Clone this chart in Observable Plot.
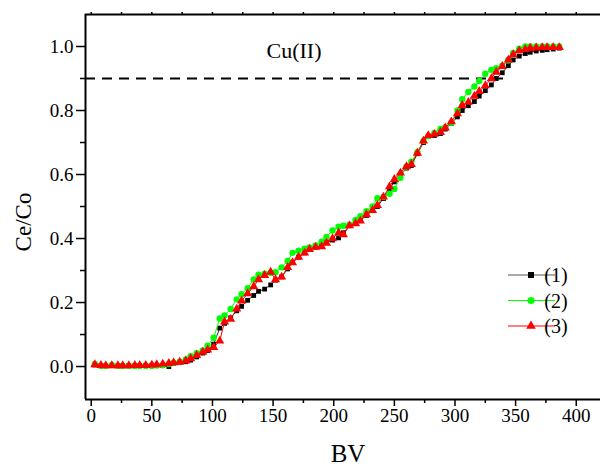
<!DOCTYPE html>
<html><head><meta charset="utf-8">
<script src="https://cdn.jsdelivr.net/npm/d3@7"></script>
<script src="https://cdn.jsdelivr.net/npm/@observablehq/plot@0.6"></script>
<style>
body{margin:0;background:#fff}
svg{display:block}
svg text, svg g[aria-label] { font-family: "Liberation Serif", "DejaVu Serif", serif !important; }
</style>
</head><body><div id="chart"></div>
<script>
const BV = [3,8,12,17,22,26,31,36,40,45,50,54,59,64,68,73,78,82,87,92,96,101,106,110,115,120,124,129,134,138,143,148,152,157,162,166,171,176,180,185,190,194,199,204,208,213,218,222,227,232,236,241,246,250,255,260,264,269,274,278,283,288,292,297,302,306,311,316,320,325,330,334,339,344,348,353,358,362,367,372,376,381,386];
const ce1 = [0.005,0.003,0.003,0.003,0.003,0.003,0.003,0.003,0.003,0.004,
 0.004,0.004,0.003,0.000,0.010,0.012,0.015,0.020,0.030,0.042,
 0.050,0.070,0.120,0.135,0.152,0.174,0.188,0.207,0.222,0.235,
 0.242,0.255,0.270,0.280,0.305,0.325,0.342,0.355,0.366,0.373,
 0.379,0.387,0.395,0.402,0.418,0.440,0.449,0.457,0.472,0.487,
 0.500,0.525,0.555,0.577,0.600,0.620,0.628,0.665,0.700,0.720,
 0.722,0.728,0.742,0.760,0.780,0.800,0.815,0.828,0.845,0.862,
 0.880,0.900,0.918,0.940,0.958,0.970,0.978,0.982,0.986,0.988,
 0.990,0.992,0.995];
const ce2 = [0.008,0.002,0.002,0.005,0.002,0.002,0.002,0.002,0.002,0.002,
 0.002,0.003,0.004,0.008,0.012,0.015,0.022,0.032,0.042,0.050,
 0.065,0.090,0.150,0.160,0.180,0.210,0.226,0.245,0.272,0.287,
 0.290,0.293,0.295,0.310,0.330,0.355,0.362,0.368,0.372,0.378,
 0.390,0.405,0.425,0.437,0.440,0.443,0.458,0.470,0.485,0.500,
 0.526,0.530,0.540,0.555,0.590,0.625,0.640,0.670,0.705,0.720,
 0.730,0.742,0.748,0.762,0.800,0.835,0.858,0.875,0.892,0.915,
 0.927,0.932,0.940,0.958,0.980,0.993,1.000,1.000,1.000,1.000,
 1.000,1.000,1.000];
const ce3 = [0.006,0.004,0.003,0.003,0.003,0.003,0.003,0.004,0.004,0.004,
 0.005,0.006,0.008,0.010,0.012,0.014,0.018,0.025,0.035,0.045,
 0.052,0.060,0.080,0.140,0.148,0.180,0.205,0.228,0.250,0.272,
 0.285,0.295,0.272,0.280,0.310,0.325,0.342,0.355,0.366,0.373,
 0.375,0.386,0.400,0.418,0.412,0.440,0.447,0.455,0.475,0.488,
 0.504,0.530,0.562,0.585,0.605,0.625,0.632,0.667,0.705,0.722,
 0.726,0.732,0.746,0.765,0.790,0.816,0.826,0.845,0.860,0.878,
 0.900,0.920,0.938,0.958,0.975,0.987,0.991,0.995,0.996,0.997,
 0.997,0.997,0.997];
const seriesNames = ["(1)","(2)","(3)"];
const xMajor = [0,50,100,150,200,250,300,350,400];
const xMinor = [25,75,125,175,225,275,325,375];
const yMajor = [0,0.2,0.4,0.6,0.8,1.0];
const yMinor = [0.1,0.3,0.5,0.7,0.9];
const xDomain = [-4.7, 420];
const yDomain = [-0.103, 1.1];
const threshold = 0.9;
const thresholdEnd = 342;
const annotation = "Cu(II)";
const xLabel = "BV";
const yLabel = "Ce/Co";

const mk = arr => BV.map((b, i) => ({bv: b, v: arr[i]}));
const d1 = mk(ce1), d2 = mk(ce2), d3s = mk(ce3);

const font = "'Liberation Serif', 'DejaVu Serif', serif";
const plot = Plot.plot({
  width: 600, height: 468,
  marginLeft: 85, marginRight: 0, marginTop: 14, marginBottom: 69,
  style: {fontFamily: font, fontSize: "19px", color: "#000", background: "#fff", overflow: "visible"},
  x: {domain: xDomain},
  y: {domain: yDomain},
  marks: [
    Plot.axisX({ticks: xMajor, tickSize: 7, tickPadding: 2, strokeWidth: 1.5, fontSize: 19, tickFormat: d => String(d), label: null}),
    Plot.axisX({ticks: xMinor, tickSize: 4, strokeWidth: 1.5, tickFormat: () => "", label: null}),
    Plot.axisX({anchor: "top", ticks: xMajor.concat(xMinor), tickSize: 3, strokeWidth: 1.5, tickFormat: () => "", label: null}),
    Plot.axisY({ticks: yMajor, tickSize: 9, tickPadding: 3, strokeWidth: 1.5, fontSize: 19, tickFormat: d3.format(".1f"), label: null}),
    Plot.axisY({ticks: yMinor, tickSize: 5, strokeWidth: 1.5, tickFormat: () => "", label: null}),
    Plot.ruleX([xDomain[0]], {stroke: "#000", strokeWidth: 2}),
    Plot.ruleY([yDomain[0], yDomain[1]], {stroke: "#000", strokeWidth: 2}),
    Plot.ruleY([threshold], {x1: xDomain[0], x2: thresholdEnd, stroke: "#000", strokeWidth: 2, strokeDasharray: "10,7"}),
    Plot.line(d1, {x: "bv", y: "v", stroke: "#333", strokeWidth: 1}),
    Plot.dot(d1, {x: "bv", y: "v", symbol: "square", fill: "#000", r: 2.7}),
    Plot.line(d2, {x: "bv", y: "v", stroke: "#00ff00", strokeWidth: 1}),
    Plot.dot(d2, {x: "bv", y: "v", symbol: "circle", fill: "#00ff00", r: 3.2}),
    Plot.line(d3s, {x: "bv", y: "v", stroke: "#ff0000", strokeWidth: 1}),
    Plot.dot(d3s, {x: "bv", y: "v", symbol: "triangle", fill: "#ff0000", r: 3.4})
  ]
});
document.getElementById("chart").appendChild(plot);

const svg = d3.select(plot);
svg.append("text").attr("x", 294).attr("y", 58).attr("text-anchor", "middle")
  .attr("font-size", 22).text(annotation);
svg.append("text").attr("x", 348).attr("y", 462).attr("text-anchor", "middle")
  .attr("font-size", 25).text(xLabel);
svg.append("text").attr("transform", "translate(31,222) rotate(-90)").attr("text-anchor", "middle")
  .attr("font-size", 23).text(yLabel);

const legendItems = [
  {name: seriesNames[0], stroke: "#555", fill: "#000", sym: d3.symbolSquare, size: 36},
  {name: seriesNames[1], stroke: "#00ff00", fill: "#00ff00", sym: d3.symbolCircle, size: 40},
  {name: seriesNames[2], stroke: "#ff0000", fill: "#ff0000", sym: d3.symbolTriangle, size: 40}
];
const lg = svg.append("g");
legendItems.forEach((it, i) => {
  const y = 275 + i * 25.5;
  lg.append("line").attr("x1", 508).attr("x2", 555).attr("y1", y).attr("y2", y)
    .attr("stroke", it.stroke).attr("stroke-width", 1.2);
  lg.append("path").attr("d", d3.symbol(it.sym, it.size)()).attr("transform", `translate(531,${y})`).attr("fill", it.fill);
  lg.append("text").attr("x", 556).attr("y", y + 7).attr("font-size", 20).text(it.name);
});
</script>
</body></html>
